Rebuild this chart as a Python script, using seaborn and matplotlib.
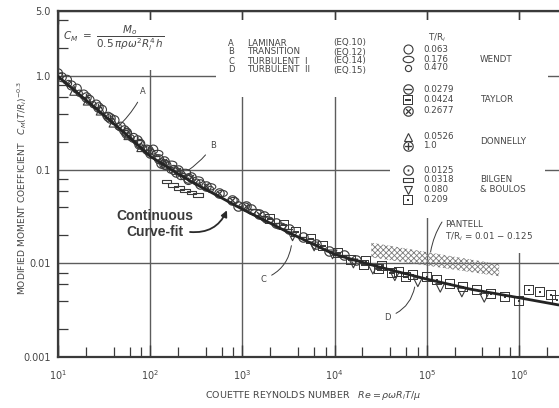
import matplotlib
matplotlib.use("Agg")
import matplotlib.pyplot as plt
from matplotlib.path import Path
from matplotlib.patches import Rectangle
from matplotlib.lines import Line2D
from matplotlib.ticker import LogLocator, NullFormatter
import seaborn as sns

sns.set_theme(style="white")
plt.rcParams["font.family"] = ["DejaVu Sans"]
plt.rcParams["hatch.linewidth"] = 0.6

INK = "#3a3a3a"
GRID = "#5c5c5c"
TXT = "#464646"

W, H = 559, 408

# ---- continuous curve-fit through all measurements ----
fit_re = [10, 20, 30, 50, 100, 200, 300, 600, 1000, 2000, 3000, 1e4, 3e4, 1e5, 3e5, 1e6, 2.7e6]
fit_cm = [1.0, 0.56, 0.40, 0.26, 0.14, 0.091, 0.072, 0.050, 0.038, 0.027, 0.022,
          0.0125, 0.0092, 0.0068, 0.0053, 0.0043, 0.0036]

# ---- measured points (Re, modified Cm) by investigator and gap ratio T/Ri ----
wendt_063_re = [10, 11, 12.5, 14, 16, 19, 22, 26, 30, 35, 41, 48, 56, 66, 78, 92, 108, 125, 150, 180, 215, 260]
wendt_063_cm = [1.08, 0.98, 0.92, 0.80, 0.74, 0.64, 0.56, 0.50, 0.44, 0.37, 0.34, 0.29, 0.25, 0.22,
                0.19, 0.165, 0.165, 0.13, 0.112, 0.10, 0.088, 0.078]
wendt_176_re = [120, 170, 240, 330, 450, 600, 800, 1050, 1400, 1900, 2600]
wendt_176_cm = [0.15, 0.115, 0.094, 0.078, 0.066, 0.056, 0.047, 0.041, 0.035, 0.029, 0.025]
wendt_470_re = [10.5, 13, 17, 24, 33, 45, 62, 85, 118, 165, 230, 320, 450]
wendt_470_cm = [1.0, 0.84, 0.66, 0.50, 0.38, 0.29, 0.22, 0.17, 0.135, 0.100, 0.085, 0.074, 0.062]

taylor_0279_re = [900, 1250, 1700, 2300, 3200, 4500, 6300, 8800, 12500, 17000]
taylor_0279_cm = [0.041, 0.038, 0.032, 0.027, 0.0235, 0.019, 0.016, 0.0135, 0.0122, 0.0108]
taylor_0424_re = [2000, 2800, 3800, 5500, 7500, 11000, 15000, 21000, 30000, 42000, 60000]
taylor_0424_cm = [0.030, 0.026, 0.0215, 0.0182, 0.0155, 0.0128, 0.0108, 0.0097, 0.0088, 0.0080, 0.0072]
taylor_2677_re = [140, 200, 280, 400, 560, 780, 1100, 1500]
taylor_2677_cm = [0.125, 0.100, 0.084, 0.068, 0.057, 0.048, 0.041, 0.034]

donnelly_0526_re = [15, 21, 29, 40, 58, 80]
donnelly_0526_cm = [0.70, 0.55, 0.43, 0.32, 0.235, 0.175]
donnelly_10_re = [20, 27, 37, 52, 72, 95, 130]
donnelly_10_cm = [0.60, 0.47, 0.36, 0.27, 0.21, 0.165, 0.12]

bilgen_0125_re = [55, 75, 100, 140, 190, 260, 350]
bilgen_0125_cm = [0.25, 0.19, 0.15, 0.115, 0.096, 0.082, 0.070]
bilgen_0318_re = [150, 175, 205, 240, 280, 330]
bilgen_0318_cm = [0.075, 0.069, 0.064, 0.060, 0.057, 0.054]
bilgen_080_re = [3500, 6000, 9500, 16000, 26000, 45000, 80000, 140000, 240000, 420000]
bilgen_080_cm = [0.0195, 0.0152, 0.0125, 0.0100, 0.0086, 0.0073, 0.0063, 0.0055, 0.0049, 0.0043]
bilgen_209_re = [22000, 33000, 50000, 70000, 100000, 130000, 180000, 250000, 350000, 500000,
                 700000, 1000000, 1300000, 1700000, 2200000, 2600000]
bilgen_209_cm = [0.0105, 0.0093, 0.0082, 0.0076, 0.0071, 0.0066, 0.0060, 0.0056, 0.0052, 0.0047,
                 0.0044, 0.0040, 0.0052, 0.0050, 0.0046, 0.0041]

# Pantell band, T/Ri = 0.01 - 0.125
pantell_re = [2.5e4, 6.1e5]
pantell_hi = [0.0167, 0.0098]
pantell_lo = [0.0116, 0.0073]

tr_labels = ["0.063", "0.176", "0.470", "0.0279", "0.0424", "0.2677",
             "0.0526", "1.0", "0.0125", "0.0318", "0.080", "0.209"]
eq_names = ["LAMINAR", "TRANSITION", "TURBULENT  I", "TURBULENT  II"]
eq_refs = ["(EQ.10)", "(EQ.12)", "(EQ.14)", "(EQ.15)"]
eq_letters = ["A", "B", "C", "D"]

# custom outline markers
_circ = Path.unit_circle()
ellipse_mk = Path(_circ.vertices * [1.7, 1.0], _circ.codes)
flatbox_mk = Path([(-1.7, -0.6), (1.7, -0.6), (1.7, 0.6), (-1.7, 0.6), (-1.7, -0.6)],
                  [Path.MOVETO, Path.LINETO, Path.LINETO, Path.LINETO, Path.CLOSEPOLY])

series = [
    (wendt_063_re, wendt_063_cm, "o", 42),
    (wendt_176_re, wendt_176_cm, ellipse_mk, 60),
    (wendt_470_re, wendt_470_cm, "o", 20),
    (taylor_0279_re, taylor_0279_cm, r"$\ominus$", 58),
    (taylor_0424_re, taylor_0424_cm, r"$\boxminus$", 55),
    (taylor_2677_re, taylor_2677_cm, r"$\otimes$", 58),
    (donnelly_0526_re, donnelly_0526_cm, "^", 40),
    (donnelly_10_re, donnelly_10_cm, r"$\oplus$", 58),
    (bilgen_0125_re, bilgen_0125_cm, r"$\odot$", 58),
    (bilgen_0318_re, bilgen_0318_cm, flatbox_mk, 50),
    (bilgen_080_re, bilgen_080_cm, "v", 40),
    (bilgen_209_re, bilgen_209_cm, r"$\boxdot$", 55),
]


def fx(px):
    return px / W


def fy(py):
    return 1 - py / H


fig = plt.figure(figsize=(W / 100, H / 100), dpi=100)
ax = fig.add_axes([fx(58), fy(357), fx(W) - fx(58), fy(11) - fy(357)])
ax.set_xscale("log")
ax.set_yscale("log")

for re_v, cm_v, mk, size in series:
    if isinstance(mk, str) and mk.startswith("$"):
        sns.scatterplot(x=re_v, y=cm_v, marker=mk, s=size, color=INK, linewidth=0,
                        ax=ax, zorder=3, legend=False)
    else:
        sns.scatterplot(x=re_v, y=cm_v, marker=mk, s=size, facecolor="none",
                        edgecolor=INK, linewidth=0.8, ax=ax, zorder=3, legend=False)

sns.lineplot(x=fit_re, y=fit_cm, color="#242424", linewidth=2.0, ax=ax, zorder=4)

ax.fill_between(pantell_re, pantell_lo, pantell_hi, facecolor="none", edgecolor="#7a7a7a",
                hatch="xxxxxx", linewidth=0, zorder=2)

ax.set_xlim(10, 10 ** 6.434)
ax.set_ylim(0.001, 5.0)

# axes frame, grid and ticks
ax.set_axisbelow(True)
ax.grid(True, which="major", color=GRID, linewidth=1.0)
for side in ["left", "bottom", "top"]:
    ax.spines[side].set_color(INK)
    ax.spines[side].set_linewidth(1.6)
ax.spines["right"].set_visible(False)

ax.set_xticks([10, 1e2, 1e3, 1e4, 1e5, 1e6])
ax.set_xticklabels([r"$10^{1}$", r"$10^{2}$", r"$10^{3}$", r"$10^{4}$", r"$10^{5}$", r"$10^{6}$"])
ax.set_yticks([0.001, 0.01, 0.1, 1.0, 5.0])
ax.set_yticklabels(["0.001", "0.01", "0.1", "1.0", "5.0"])
ax.xaxis.set_minor_locator(LogLocator(base=10, subs=(2, 4, 6, 8), numticks=30))
ax.yaxis.set_minor_locator(LogLocator(base=10, subs=(2, 4, 6, 8), numticks=30))
ax.xaxis.set_minor_formatter(NullFormatter())
ax.yaxis.set_minor_formatter(NullFormatter())
ax.tick_params(axis="x", which="major", direction="in", top=True, bottom=True,
               length=9, width=1.0, color=INK, pad=8, labelsize=7, labelcolor=TXT)
ax.tick_params(axis="x", which="minor", direction="in", top=False, bottom=True,
               length=7, width=0.9, color=INK)
ax.tick_params(axis="y", which="major", direction="in", left=True, right=False,
               length=0, pad=5, labelsize=7, labelcolor=TXT)
ax.tick_params(axis="y", which="minor", direction="in", left=True, right=False,
               length=7, width=0.9, color=INK)

# white blocks keep the grid clear behind the key and notes
for x0, y0, x1, y1 in [(140, 20, 548, 70), (216, 70, 548, 97), (390, 97, 545, 218), (500, 218, 540, 253)]:
    ax.add_patch(Rectangle((fx(x0), fy(y1)), fx(x1) - fx(x0), fy(y0) - fy(y1),
                           transform=fig.transFigure, facecolor="white", edgecolor="none", zorder=1))

# axis titles
fig.text(fx(22), fy(188), r"MODIFIED MOMENT COEFFICIENT   $C_M(T/R_i)^{-0.3}$",
         rotation=90, ha="center", va="center", fontsize=6.6, color=TXT)
fig.text(fx(313), fy(395), r"COUETTE REYNOLDS NUMBER   $Re = \rho\omega R_i T/\mu$",
         ha="center", va="center", fontsize=6.8, color=TXT)

# definition of the moment coefficient
fig.text(fx(63), fy(38), r"$C_M\ =\ \dfrac{M_o}{0.5\,\pi\rho\omega^2 R_i^4\,h}$",
         ha="left", va="center", fontsize=7.5, color=TXT)

# equation key
for i, (let, name, ref) in enumerate(zip(eq_letters, eq_names, eq_refs)):
    yy = 43 + 9 * i
    fig.text(fx(231), fy(yy), let, ha="center", va="center", fontsize=6, color=TXT)
    fig.text(fx(247), fy(yy), name, ha="left", va="center", fontsize=6.3, color=TXT)
    fig.text(fx(333), fy(yy), ref, ha="left", va="center", fontsize=6.3, color=TXT)

# data key
fig.text(fx(428), fy(38), r"T/R$_i$", ha="left", va="center", fontsize=6.3, color=TXT)
key_rows = [49, 59, 68, 89, 100, 111, 137, 146, 170, 180, 190, 200]
for (re_v, cm_v, mk, size), lab, yy in zip(series, tr_labels, key_rows):
    if isinstance(mk, str) and mk.startswith("$"):
        mk_kw = dict(color=INK, markeredgewidth=0)
    else:
        mk_kw = dict(markerfacecolor="none", markeredgecolor=INK, markeredgewidth=0.8)
    fig.add_artist(Line2D([fx(408)], [fy(yy)], marker=mk, markersize=size ** 0.5,
                          linestyle="none", transform=fig.transFigure, **mk_kw))
    fig.text(fx(423), fy(yy), lab, ha="left", va="center", fontsize=6.3, color=TXT)
for name, yy in [("WENDT", 59), ("TAYLOR", 100), ("DONNELLY", 142), ("BILGEN", 180), ("& BOULOS", 190)]:
    fig.text(fx(480), fy(yy), name, ha="left", va="center", fontsize=6.3, color=TXT)

# Pantell note
fig.text(fx(445), fy(224), "PANTELL", ha="left", va="center", fontsize=6.3, color=TXT)
fig.text(fx(445), fy(237), r"T/R$_i$ = 0.01 $-$ 0.125", ha="left", va="center", fontsize=6.3, color=TXT)
ax.annotate("", xy=(1.1e5, 0.0133), xytext=(fx(442), fy(222)), textcoords="figure fraction",
            arrowprops=dict(arrowstyle="-", color=INK, lw=0.7, shrinkA=0, shrinkB=0,
                            connectionstyle="arc3,rad=0.1"))

# regime letters with leader lines
leaders = [("A", (143, 92), (44, 0.286), -0.1),
           ("B", (213, 145), (258, 0.099), -0.1),
           ("C", (263, 279), (3400, 0.0155), 0.3),
           ("D", (387, 317), (7.4e4, 0.0056), 0.3)]
for let, (px, py), xy, rad in leaders:
    ax.annotate(let, xy=xy, xytext=(fx(px), fy(py)), textcoords="figure fraction",
                ha="center", va="center", fontsize=6, color=TXT,
                arrowprops=dict(arrowstyle="-", color=INK, lw=0.7, shrinkA=2, shrinkB=0,
                                connectionstyle=f"arc3,rad={rad}"))

# curve-fit callout
fig.text(fx(155), fy(224), "Continuous\nCurve-fit", ha="center", va="center",
         multialignment="center", fontsize=10, fontweight="bold", color="#3a3a3a",
         family=["Liberation Sans", "DejaVu Sans"], linespacing=1.1)
ax.annotate("", xy=(680, 0.037), xytext=(fx(190), fy(232)), textcoords="figure fraction",
            arrowprops=dict(arrowstyle="-|>", color="#2a2a2a", lw=1.3, shrinkA=0, shrinkB=0,
                            mutation_scale=9, connectionstyle="arc3,rad=0.35"))

fig.savefig("out.png", dpi=100, facecolor="white")
